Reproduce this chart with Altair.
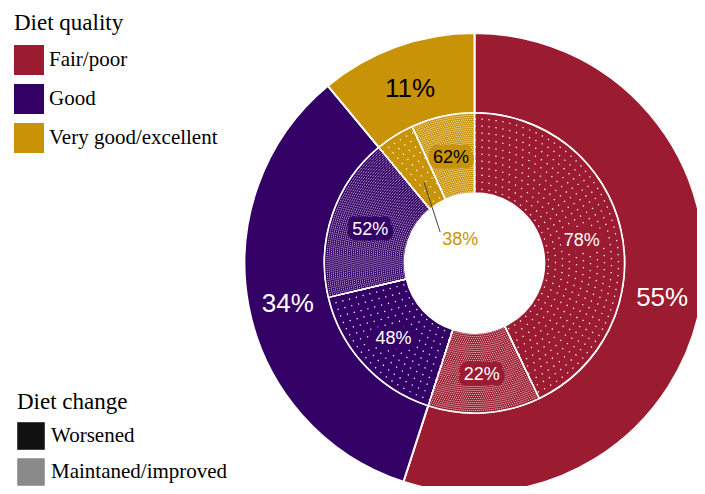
import math
import altair as alt
import pandas as pd

# ---------------- data ----------------
quality = ["Fair/poor", "Good", "Very good/excellent"]
quality_pct = [55, 34, 11]
quality_colors = ["#9B1B30", "#330066", "#C99308"]

change = ["Worsened", "Maintaned/improved"]
worsened_pct = [78, 48, 38]
maintained_pct = [22, 52, 62]
change_legend_colors = ["#111111", "#8a8a8a"]

# ---------------- layout / style constants ----------------
CX, CY = 466.5, 255.0
R_OUT, R_MID, R_IN = 230, 150, 70
SANS = "Liberation Sans"
SERIF = "Liberation Serif"
FULL = [0, 100]

outer = pd.DataFrame({
    "quality": quality,
    "pct": quality_pct,
    "order": list(range(len(quality))),
    "label": [f"{p}%" for p in quality_pct],
})

rows = []
for i, (q, p) in enumerate(zip(quality, quality_pct)):
    for j, (c, cp) in enumerate(zip(change, [worsened_pct[i], maintained_pct[i]])):
        rows.append({
            "quality": q, "change": c, "pct": cp,
            "share": p * cp / 100.0, "order": i * 2 + j,
            "label": f"{cp}%", "key": f"{q}|{c}",
        })
inner = pd.DataFrame(rows)
inner["t1"] = inner["share"].cumsum()
inner["t0"] = inner["t1"] - inner["share"]
small_key = f"{quality[2]}|{change[0]}"
inner["ring_label"] = [("" if k == small_key else l) for k, l in zip(inner["key"], inner["label"])]
inner["centre_label"] = [(l if k == small_key else "") for k, l in zip(inner["key"], inner["label"])]

# texture rings (fill pattern of the inner ring: dots / fine checker)
tex_rows = []
for _, r in inner.iterrows():
    if r["change"] == change[0]:
        rad, step = R_IN + 4.0, 7.0
        while rad < R_MID - 2:
            tex_rows.append({"t0": r["t0"], "t1": r["t1"], "r": rad, "kind": "dots"})
            rad += step
    else:
        rad, step = R_IN + 1.5, 2.0
        while rad < R_MID - 1:
            tex_rows.append({"t0": r["t0"], "t1": r["t1"], "r": rad, "kind": "checker"})
            rad += step
tex = pd.DataFrame(tex_rows)

qscale = alt.Scale(domain=quality, range=quality_colors)
center = dict(x=alt.value(CX), y=alt.value(CY))

base_outer = alt.Chart(outer).encode(
    theta=alt.Theta("pct:Q", stack=True, scale=alt.Scale(domain=FULL)),
    order=alt.Order("order:Q"),
    **center,
)
base_inner = alt.Chart(inner).encode(
    theta=alt.Theta("share:Q", stack=True, scale=alt.Scale(domain=FULL)),
    order=alt.Order("order:Q"),
    **center,
)

legend_common = dict(
    orient="none", symbolType="square", symbolStrokeWidth=0,
    titleFont=SERIF, titleFontSize=23, titleFontWeight="normal", titleColor="black",
    labelFont=SERIF, labelFontSize=21, labelColor="black", labelLimit=400,
)

outer_ring = base_outer.mark_arc(
    radius=R_OUT, radius2=R_MID, stroke="white", strokeWidth=2
).encode(
    fill=alt.Fill(
        "quality:N", scale=qscale,
        legend=alt.Legend(
            title="Diet quality", legendX=6, legendY=4, symbolSize=900,
            rowPadding=9, labelOffset=5, titlePadding=10, **legend_common,
        ),
    )
)

inner_ring = base_inner.mark_arc(
    radius=R_MID, radius2=R_IN, stroke="white", strokeWidth=1.5
).encode(fill=alt.Fill("quality:N", scale=qscale, legend=None))


def tex_layer(kind, width, dash, opacity):
    return alt.Chart(tex).transform_filter(f"datum.kind === '{kind}'").mark_arc(
        radius2=0, fillOpacity=0, stroke="white", strokeWidth=width,
        strokeDash=dash, strokeOpacity=opacity, strokeCap="butt",
    ).encode(
        theta=alt.Theta("t0:Q", stack=False, scale=alt.Scale(domain=FULL)),
        theta2="t1:Q",
        radius=alt.Radius("r:Q", scale=None),
        **center,
    )


tex_dots = tex_layer("dots", 1.3, [1.3, 5.7], 0.95)
tex_checker = tex_layer("checker", 1.0, [1, 1], 0.9)

legend_change = base_inner.mark_arc(radius=0, radius2=0).encode(
    fill=alt.Fill(
        "change:N", scale=alt.Scale(domain=change, range=change_legend_colors),
        legend=alt.Legend(
            title="Diet change", legendX=9, legendY=383, symbolSize=760,
            rowPadding=8, labelOffset=6, titlePadding=8, **legend_common,
        ),
    )
)

outer_text = base_outer.mark_text(radius=190, font=SANS, fontSize=26, dy=5).encode(
    text="label:N",
    fill=alt.condition(
        f"datum.quality === '{quality[2]}'", alt.value("black"), alt.value("white")
    ),
)

halo = base_inner.mark_text(
    radius=110, font=SANS, fontSize=18, dy=2, strokeWidth=11, strokeJoin="round"
).encode(
    text="ring_label:N",
    fill=alt.Fill("quality:N", scale=qscale, legend=None),
    stroke=alt.Stroke("quality:N", scale=qscale, legend=None),
)

inner_text = base_inner.mark_text(radius=110, font=SANS, fontSize=18, dy=2).encode(
    text="ring_label:N",
    fill=alt.condition(
        f"datum.key === '{quality[2]}|{change[1]}'", alt.value("black"), alt.value("white")
    ),
)

centre_text = base_inner.mark_text(radius=27, font=SANS, fontSize=18).encode(
    text="centre_label:N",
    fill=alt.value(quality_colors[2]),
)

# leader line from the narrow slice to its label
srow = inner[inner["key"] == small_key].iloc[0]
tm = (srow["t0"] + srow["t1"]) / 2 / 100 * 2 * math.pi
lx1, ly1 = CX + 95 * math.sin(tm), CY - 95 * math.cos(tm)
lx2, ly2 = CX + 27 * math.sin(tm) - 20, CY - 27 * math.cos(tm) - 8
leader = alt.Chart(pd.DataFrame({"k": [small_key]})).mark_rule(
    color="#444444", strokeWidth=1
).encode(
    x=alt.value(lx1), y=alt.value(ly1), x2=alt.value(lx2), y2=alt.value(ly2)
)

chart = alt.layer(
    outer_ring, inner_ring, tex_dots, tex_checker, legend_change,
    outer_text, halo, inner_text, centre_text, leader,
).resolve_scale(fill="independent").properties(
    width=689, height=478, padding=0, autosize="none", background="white"
).configure_view(stroke=None)

chart.save("out.html", embed_options={"renderer": "svg", "actions": False})
